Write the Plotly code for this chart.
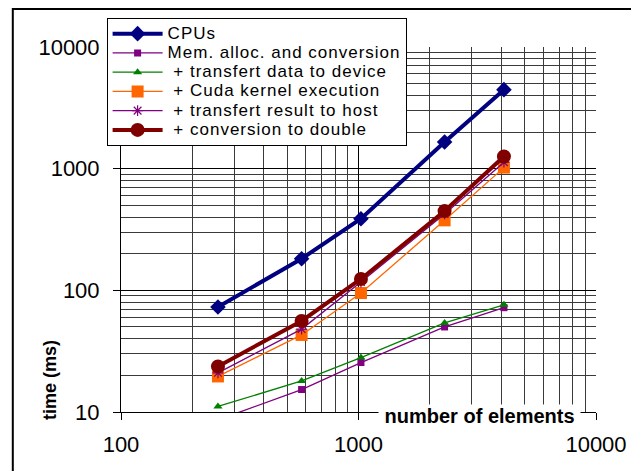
import plotly.graph_objects as go

# ---- data ----
n_elements = [256, 576, 1024, 2304, 4096]
cpus = [73, 182, 388, 1655, 4460]
mem_alloc = [8.6, 15.3, 25.5, 50, 72]
to_device = [11.1, 18, 28, 54, 76]
cuda_kernel = [19.6, 43, 95, 376, 1020]
to_host = [21, 48, 117, 425, 1130]
to_double = [23.7, 56, 124, 448, 1260]

series_names = [
    "CPUs",
    "Mem. alloc. and conversion",
    "\u00a0+ transfert data to device",
    "\u00a0+ Cuda kernel execution",
    "\u00a0+ transfert result to host",
    "\u00a0+ conversion to double",
]
y_tick_vals = [10, 100, 1000, 10000]
x_tick_vals = [100, 1000, 10000]

FONT = "Liberation Sans, Arial, sans-serif"


def lname(s):
    return '<span style="font-size:17px;letter-spacing:1px">' + s + "</span>"


styles = [
    dict(color="#000080", width=4, symbol="diamond", size=12),
    dict(color="#800080", width=1.3, symbol="square", size=7),
    dict(color="#008000", width=1.3, symbol="triangle-up", size=8),
    dict(color="#FF6600", width=1.3, symbol="square", size=12),
    dict(color="#800080", width=1.3, symbol="asterisk-open", size=9),
    dict(color="#800000", width=4, symbol="circle", size=14),
]
values = [cpus, mem_alloc, to_device, cuda_kernel, to_host, to_double]

fig = go.Figure()
for name, vals, st in zip(series_names, values, styles):
    fig.add_trace(go.Scatter(
        x=n_elements, y=vals, name=lname(name), mode="lines+markers",
        line=dict(color=st["color"], width=st["width"]),
        marker=dict(symbol=st["symbol"], size=st["size"], color=st["color"],
                    line=dict(color=st["color"], width=1.2 if "asterisk" in st["symbol"] else 0)),
        cliponaxis=True,
    ))

axis_common = dict(
    type="log", dtick=1, showgrid=True, gridcolor="#000000", gridwidth=1,
    minor=dict(dtick="D1", showgrid=True, gridcolor="#3a3a3a", gridwidth=1, ticks=""),
    showline=True, linecolor="#000000", linewidth=1,
    ticks="outside", ticklen=7, tickcolor="#000000", tickwidth=1,
    tickfont=dict(family=FONT, size=22, color="#000000"),
    zeroline=False,
)

W, H = 631, 471
L, T, PW, PH = 121, 47, 475, 365
fig.update_layout(
    width=W, height=H, autosize=False,
    margin=dict(l=L, r=W - L - PW, t=T, b=H - T - PH, pad=0, autoexpand=False),
    paper_bgcolor="white", plot_bgcolor="white",
    font=dict(family=FONT, color="#000000"),
    xaxis=dict(axis_common, range=[2, 4], tickvals=x_tick_vals, ticktext=[str(v) for v in x_tick_vals],
               ticklabelstandoff=6, tickangle=0),
    yaxis=dict(axis_common, range=[1, 4], tickvals=y_tick_vals, ticktext=[str(v) for v in y_tick_vals],
               ticklabelstandoff=9),
    showlegend=True,
    legend=dict(
        xref="container", yref="container", x=106.6 / W, y=1 - 18 / H,
        xanchor="left", yanchor="top",
        bgcolor="white", bordercolor="#000000", borderwidth=1,
        font=dict(family=FONT, size=12.5, color="#000000"),
        itemwidth=50, tracegroupgap=0,
    ),
    annotations=[
        dict(text="\u00a0number of elements\u00a0", xref="paper", yref="paper",
             x=(479.7 - 121) / 475, y=(412 - 416) / 365, xanchor="center", yanchor="middle",
             showarrow=False, bgcolor="white", borderpad=0,
             font=dict(family=FONT, size=20, color="#000000", weight="bold")),
        dict(text="time (ms)", xref="paper", yref="paper", textangle=-90,
             x=(50 - 121) / 475, y=(412 - 380) / 365, xanchor="center", yanchor="middle",
             showarrow=False,
             font=dict(family=FONT, size=18, color="#000000", weight="bold")),
    ],
    shapes=[
        dict(type="rect", xref="paper", yref="paper",
             x0=(12.8 - 121) / 475, x1=(660 - 121) / 475,
             y0=(412 - 500) / 365, y1=(412 - 9) / 365,
             line=dict(color="#000000", width=2), fillcolor="rgba(0,0,0,0)", layer="above"),
    ],
)

fig.write_html(
    "out.html",
    config={"displayModeBar": False},
    post_script="document.body.style.margin='0';document.body.style.overflow='hidden';",
)
